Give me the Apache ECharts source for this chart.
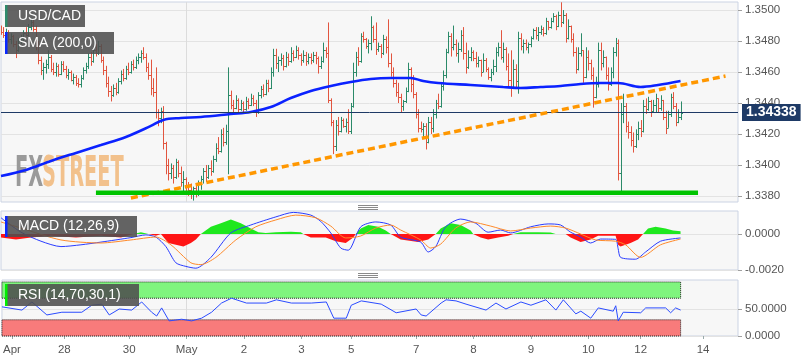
<!DOCTYPE html>
<html><head><meta charset="utf-8">
<script src="https://cdn.jsdelivr.net/npm/echarts@6/dist/echarts.min.js"></script>
<style>html,body{margin:0;padding:0;background:#fff}#c{width:808px;height:363px}</style>
</head><body><div id="c"></div>
<script>
// ---------- DATA ----------
const opens=[1.3488,1.3486,1.3484,1.3486,1.3481,1.3483,1.3478,1.3474,1.348,1.3482,
1.3485,1.3484,1.3489,1.3492,1.3488,1.3477,1.3468,1.3461,1.3463,1.3465,
1.347,1.3462,1.346,1.3464,1.3459,1.3465,1.3462,1.3458,1.346,1.3455,
1.3457,1.3453,1.3452,1.3456,1.3461,1.3464,1.347,1.3467,1.3474,1.3472,
1.3477,1.3468,1.3461,1.3453,1.3448,1.3445,1.345,1.3447,1.3454,1.3459,
1.3456,1.3462,1.346,1.3465,1.3463,1.3468,1.347,1.3472,1.347,1.3463,
1.3458,1.345,1.3447,1.3434,1.343,1.3435,1.3414,1.34,1.3395,1.3398,
1.3392,1.3402,1.3395,1.3389,1.3391,1.3386,1.3384,1.3381,1.3385,1.3382,
1.3388,1.3391,1.3396,1.3392,1.3398,1.3396,1.3404,1.3411,1.3409,1.342,
1.3415,1.3422,1.3445,1.3439,1.3437,1.3442,1.3436,1.344,1.3436,1.3441,
1.3439,1.3443,1.344,1.3434,1.3445,1.3449,1.3446,1.3453,1.345,1.346,
1.3471,1.3466,1.3468,1.3469,1.3464,1.347,1.3467,1.3472,1.347,1.3474,
1.3471,1.3468,1.3471,1.3467,1.347,1.3468,1.3471,1.3469,1.3464,1.3467,
1.3474,1.3472,1.3442,1.3428,1.3412,1.3426,1.3422,1.3429,1.3425,1.3428,
1.3422,1.3438,1.346,1.347,1.3467,1.3483,1.3481,1.3477,1.3479,1.3489,
1.3481,1.3475,1.3477,1.3472,1.3481,1.3476,1.3466,1.346,1.3453,1.3447,
1.3444,1.3438,1.3441,1.3448,1.3462,1.3452,1.3446,1.3433,1.3424,1.3423,
1.3425,1.3415,1.3428,1.3424,1.3433,1.344,1.3438,1.3451,1.3458,1.3473,
1.3483,1.3476,1.3478,1.3472,1.3475,1.3484,1.3472,1.3463,1.347,1.3473,
1.3469,1.3466,1.3468,1.346,1.3468,1.3462,1.3457,1.346,1.3464,1.3473,
1.3476,1.347,1.3475,1.3464,1.3455,1.345,1.3462,1.3454,1.3482,1.3477,
1.3479,1.3476,1.3478,1.3482,1.3487,1.3484,1.3486,1.3488,1.3485,1.3493,
1.3489,1.3493,1.3496,1.349,1.3497,1.3492,1.3497,1.3482,1.349,1.3481,
1.3473,1.3462,1.3472,1.3474,1.3457,1.347,1.3466,1.3458,1.3444,1.3452,
1.3474,1.3466,1.347,1.3458,1.3452,1.346,1.3473,1.3479,1.3395,1.3433,
1.3438,1.3425,1.3421,1.3416,1.3412,1.342,1.3424,1.3422,1.3438,1.3436,
1.3441,1.3435,1.3439,1.3443,1.3437,1.3442,1.3431,1.3424,1.3433,1.3444,
1.3438,1.3428,1.3431];
const highs=[1.349,1.3489,1.3488,1.3487,1.3485,1.3484,1.348,1.3482,1.3484,1.3487,
1.3489,1.3491,1.3495,1.3494,1.349,1.348,1.347,1.3466,1.3468,1.3474,
1.3471,1.3466,1.3466,1.3465,1.3467,1.3467,1.3464,1.3462,1.3461,1.3459,
1.3458,1.3456,1.3458,1.3463,1.3466,1.3472,1.3473,1.3476,1.3478,1.348,
1.3478,1.347,1.3464,1.3457,1.3451,1.3452,1.3453,1.3456,1.3461,1.3462,
1.3464,1.3466,1.3467,1.3468,1.347,1.3472,1.3474,1.3476,1.3472,1.3466,
1.3468,1.3456,1.3463,1.3436,1.3437,1.3438,1.3415,1.3404,1.3401,1.34,
1.3404,1.3403,1.3399,1.3396,1.3392,1.3389,1.3388,1.3386,1.3387,1.339,
1.3393,1.3398,1.34,1.34,1.3403,1.3406,1.3414,1.3418,1.3423,1.3424,
1.3426,1.3463,1.3448,1.3442,1.3445,1.3443,1.3442,1.3441,1.3444,1.3443,
1.3446,1.3445,1.3442,1.3447,1.3451,1.3452,1.3455,1.3455,1.3463,1.3475,
1.3475,1.347,1.3472,1.3471,1.3473,1.3472,1.3476,1.3474,1.3477,1.3476,
1.3472,1.3474,1.3473,1.3472,1.3472,1.3473,1.3473,1.347,1.347,1.3479,
1.3476,1.3492,1.3443,1.3429,1.3429,1.3431,1.3431,1.343,1.343,1.3436,
1.344,1.3466,1.3473,1.3476,1.3485,1.3486,1.3482,1.3481,1.3496,1.349,
1.3492,1.3479,1.3478,1.3484,1.3483,1.3494,1.3472,1.3463,1.3455,1.3453,
1.3446,1.3442,1.345,1.3466,1.3463,1.3458,1.3447,1.3436,1.3428,1.3427,
1.3427,1.3431,1.3431,1.3436,1.3442,1.3446,1.3453,1.3461,1.3475,1.3486,
1.3485,1.349,1.3481,1.3479,1.3487,1.3489,1.3479,1.3474,1.3476,1.3474,
1.3473,1.347,1.3468,1.3472,1.3469,1.3463,1.3462,1.3468,1.3476,1.3479,
1.3487,1.3479,1.3476,1.3472,1.3474,1.3468,1.3465,1.3486,1.3485,1.3481,
1.3481,1.3479,1.3483,1.3488,1.3489,1.3489,1.349,1.3489,1.3495,1.3493,
1.3495,1.3498,1.3497,1.3499,1.3505,1.35,1.3498,1.3494,1.349,1.3485,
1.3476,1.3476,1.3485,1.3474,1.3476,1.3474,1.3468,1.3463,1.3457,1.3479,
1.3479,1.3474,1.347,1.3463,1.3463,1.3476,1.3482,1.3481,1.344,1.3446,
1.344,1.3428,1.3425,1.3421,1.3423,1.3428,1.3429,1.3442,1.3443,1.3444,
1.3442,1.3442,1.3446,1.3443,1.3445,1.3442,1.3435,1.3435,1.3446,1.3447,
1.344,1.3436,1.3441];
const lows=[1.3484,1.3482,1.3481,1.3479,1.3478,1.3476,1.3469,1.3473,1.3478,1.348,
1.3483,1.3483,1.3487,1.3486,1.3474,1.3465,1.3458,1.3455,1.3459,1.3462,
1.346,1.3458,1.3457,1.3457,1.3458,1.346,1.3456,1.3455,1.3454,1.3452,
1.3451,1.345,1.345,1.3455,1.3459,1.3462,1.3464,1.3466,1.347,1.3471,
1.3466,1.3458,1.345,1.3444,1.3441,1.3444,1.3445,1.3446,1.3452,1.3454,
1.3455,1.3458,1.3459,1.3461,1.3462,1.3465,1.3466,1.3468,1.346,1.3455,
1.3445,1.3444,1.343,1.3425,1.3427,1.341,1.3394,1.339,1.3391,1.3388,
1.3391,1.3392,1.3386,1.3383,1.3382,1.338,1.3378,1.3377,1.3379,1.338,
1.3384,1.3388,1.3389,1.3391,1.3393,1.3395,1.3402,1.3407,1.3408,1.3412,
1.3413,1.3394,1.3436,1.3434,1.3436,1.3434,1.3435,1.3434,1.3435,1.3436,
1.3438,1.3438,1.3431,1.3433,1.3443,1.3444,1.3445,1.3447,1.3449,1.3457,
1.3462,1.346,1.3464,1.3461,1.3463,1.3464,1.3466,1.3467,1.3469,1.3468,
1.3464,1.3466,1.3464,1.3465,1.3465,1.3466,1.3465,1.3459,1.3462,1.3466,
1.3469,1.344,1.3425,1.3407,1.3409,1.3419,1.3421,1.3424,1.3421,1.342,
1.342,1.3437,1.3457,1.3464,1.3466,1.3479,1.3475,1.3472,1.3474,1.3479,
1.3471,1.3473,1.3469,1.3471,1.3472,1.3463,1.3457,1.345,1.3444,1.344,
1.3434,1.3435,1.344,1.3447,1.3447,1.3443,1.343,1.3421,1.3421,1.3418,
1.341,1.3414,1.342,1.3421,1.343,1.3436,1.3437,1.3448,1.3456,1.3472,
1.347,1.3474,1.347,1.3466,1.3473,1.3468,1.3459,1.3462,1.3467,1.3467,
1.3463,1.3463,1.3457,1.346,1.346,1.3455,1.3454,1.3458,1.346,1.347,
1.3468,1.3466,1.3461,1.345,1.3444,1.3449,1.345,1.3446,1.3474,1.3472,
1.3474,1.3472,1.3476,1.3481,1.3481,1.348,1.3484,1.3483,1.3484,1.3487,
1.3488,1.3492,1.3487,1.3489,1.3489,1.3491,1.3479,1.3481,1.3479,1.347,
1.3459,1.3461,1.347,1.3453,1.3456,1.3461,1.3455,1.3437,1.3443,1.345,
1.3461,1.3463,1.3455,1.3448,1.3451,1.3456,1.347,1.339,1.3383,1.3427,
1.3421,1.3417,1.3412,1.3408,1.3411,1.3416,1.3418,1.3421,1.3433,1.3435,
1.3431,1.3434,1.3434,1.3434,1.3435,1.3429,1.342,1.3424,1.3431,1.3436,
1.3425,1.3427,1.3429];
const closes=[1.3486,1.3484,1.3486,1.3481,1.3483,1.3478,1.3474,1.348,1.3482,1.3485,
1.3484,1.3489,1.3492,1.3488,1.3477,1.3468,1.3461,1.3463,1.3465,1.347,
1.3462,1.346,1.3464,1.3459,1.3465,1.3462,1.3458,1.346,1.3455,1.3457,
1.3453,1.3452,1.3456,1.3461,1.3464,1.347,1.3467,1.3474,1.3472,1.3477,
1.3468,1.3461,1.3453,1.3448,1.3445,1.345,1.3447,1.3454,1.3459,1.3456,
1.3462,1.346,1.3465,1.3463,1.3468,1.347,1.3472,1.347,1.3463,1.3458,
1.345,1.3447,1.3434,1.343,1.3435,1.3414,1.34,1.3395,1.3398,1.3392,
1.3402,1.3395,1.3389,1.3391,1.3386,1.3384,1.3381,1.3385,1.3382,1.3388,
1.3391,1.3396,1.3392,1.3398,1.3396,1.3404,1.3411,1.3409,1.342,1.3415,
1.3422,1.3445,1.3439,1.3437,1.3442,1.3436,1.344,1.3436,1.3441,1.3439,
1.3443,1.344,1.3434,1.3445,1.3449,1.3446,1.3453,1.345,1.346,1.3471,
1.3466,1.3468,1.3469,1.3464,1.347,1.3467,1.3472,1.347,1.3474,1.3471,
1.3468,1.3471,1.3467,1.347,1.3468,1.3471,1.3469,1.3464,1.3467,1.3474,
1.3472,1.3442,1.3428,1.3412,1.3426,1.3422,1.3429,1.3425,1.3428,1.3422,
1.3438,1.346,1.347,1.3467,1.3483,1.3481,1.3477,1.3479,1.3489,1.3481,
1.3475,1.3477,1.3472,1.3481,1.3476,1.3466,1.346,1.3453,1.3447,1.3444,
1.3438,1.3441,1.3448,1.3462,1.3452,1.3446,1.3433,1.3424,1.3423,1.3425,
1.3415,1.3428,1.3424,1.3433,1.344,1.3438,1.3451,1.3458,1.3473,1.3483,
1.3476,1.3478,1.3472,1.3475,1.3484,1.3472,1.3463,1.347,1.3473,1.3469,
1.3466,1.3468,1.346,1.3468,1.3462,1.3457,1.346,1.3464,1.3473,1.3476,
1.347,1.3475,1.3464,1.3455,1.345,1.3462,1.3454,1.3482,1.3477,1.3479,
1.3476,1.3478,1.3482,1.3487,1.3484,1.3486,1.3488,1.3485,1.3493,1.3489,
1.3493,1.3496,1.349,1.3497,1.3492,1.3497,1.3482,1.349,1.3481,1.3473,
1.3462,1.3472,1.3474,1.3457,1.347,1.3466,1.3458,1.3444,1.3452,1.3474,
1.3466,1.347,1.3458,1.3452,1.346,1.3473,1.3479,1.3395,1.3433,1.3438,
1.3425,1.3421,1.3416,1.3412,1.342,1.3424,1.3422,1.3438,1.3436,1.3441,
1.3435,1.3439,1.3443,1.3437,1.3442,1.3431,1.3424,1.3433,1.3444,1.3438,
1.3428,1.3431,1.34338];
const lastPrice = 1.34338;
// SMA(200) read at sampled bar indices [barIndex, value]
const smaPoints=[[0,1.33929],[10,1.33968],[20,1.34026],[30,1.34078],[40,1.34129],[50,1.34181],[60,1.34252],[65,1.34291],[72,1.34303],[80,1.3431],[92,1.34329],[100,1.34342],[108,1.34374],[116,1.34432],[124,1.34478],[132,1.3451],[140,1.34536],[148,1.34555],[156,1.34561],[164,1.34561],[169,1.34542],[175,1.34529],[188,1.34516],[201,1.34503],[208,1.34497],[216,1.34503],[224,1.3451],[232,1.34523],[240,1.34529],[247,1.34529],[256,1.34503],[263,1.34516],[272,1.34542]];
const trendIdx=[52,290], trendVal=[1.33787,1.34574];
const supportIdx=[38,279], supportVal=1.3382;
const macdHist=[[0,-0.0002],[6,-0.0003],[12,-0.0002],[20,-0.0001],[30,-0.0002],[40,-0.0001],[48,-0.0002],[53,0],[56,0.0001],[59,0],[62,-0.0001],[64,0],[67,-0.0005],[70,-0.0006],[73,-0.0007],[76,-0.0005],[78,-0.0003],[80,0],[84,0.0004],[88,0.0006],[92,0.0008],[96,0.0006],[100,0.0003],[103,0.0001],[106,0.00005],[110,0.0001],[116,0.00012],[120,0.0001],[121,0],[124,-0.0002],[130,-0.0002],[134,-0.0004],[138,-0.0005],[141,-0.0002],[142,0],[144,0.0003],[147,0.0005],[151,0.0004],[154,0.0002],[156,0],[160,-0.0003],[167,-0.00045],[171,-0.0003],[174,0],[176,0.0003],[180,0.0006],[184,0.0005],[188,0.0002],[189,0],[192,-0.0002],[195,-0.0003],[199,-0.0002],[203,-0.0001],[205,0],[208,0.0001],[215,0.0001],[220,0.00008],[222,0],[226,0],[228,-0.0002],[232,-0.00045],[236,-0.0003],[239,-0.0001],[246,-0.0001],[247,-0.0006],[248,-0.0007],[252,-0.0005],[255,-0.0003],[257,0],[259,0.0003],[262,0.0004],[266,0.0003],[269,0.0002],[272,0.00015]];
const macdLine=[[0,0.0009],[8,0.0001],[16,-0.0004],[24,-0.0007],[32,-0.0006],[40,-0.00045],[52,-0.0002],[58,-0.00005],[62,-0.00017],[66,-0.0007],[70,-0.0016],[74,-0.0018],[78,-0.0019],[84,-0.0013],[92,0.00006],[100,0.0005],[110,0.00095],[117,0.0012],[124,0.00105],[128,0.0007],[132,0.00006],[136,-0.00078],[139,-0.0009],[144,0.0004],[150,0.00067],[156,0.0005],[160,-0.00017],[168,-0.00045],[171,-0.001],[174,-0.0007],[178,0.0004],[184,0.00083],[190,0.0006],[195,0.0001],[200,0.00022],[204,0.00006],[212,0.0004],[219,0.00056],[224,0.0005],[228,0.0001],[232,-0.00017],[236,-0.0005],[240,-0.00028],[246,-0.0003],[247,-0.0008],[248,-0.0013],[254,-0.0014],[258,-0.001],[264,-0.0004],[272,-0.00022]];
const signalLine=[[0,0.00067],[8,0.00033],[24,-0.00033],[40,-0.0005],[52,-0.00033],[62,-0.00017],[68,-0.0006],[76,-0.0016],[80,-0.0017],[86,-0.0013],[94,-0.00033],[102,0.0004],[110,0.00078],[118,0.00105],[126,0.0009],[132,0.00044],[138,-0.00022],[144,-0.00011],[150,0.00033],[156,0.0005],[160,0.00022],[168,-0.00033],[172,-0.00078],[176,-0.00056],[182,0.00033],[188,0.00067],[196,0.00044],[204,0.00017],[212,0.00033],[220,0.00044],[226,0.00033],[232,0],[238,-0.00033],[246,-0.0004],[250,-0.0006],[256,-0.0013],[264,-0.0006],[272,-0.00028]];
const rsiLine=[[0,54],[8,48],[12,63],[18,39],[24,44],[32,44],[36,57],[40,59],[43,39],[47,50],[52,48],[56,63],[60,44],[62,37],[64,52],[67,28],[72,31],[76,28],[80,33],[84,44],[88,61],[92,70],[98,61],[106,61],[110,67],[116,61],[124,61],[130,63],[133,33],[138,33],[140,57],[144,65],[152,59],[158,43],[166,50],[168,39],[170,37],[176,61],[178,67],[182,65],[186,59],[194,48],[198,61],[202,50],[208,63],[212,57],[218,67],[222,48],[225,67],[230,41],[232,46],[236,33],[239,52],[245,46],[246,56],[247,28],[249,44],[256,43],[258,52],[266,52],[268,43],[270,52],[272,48]];
const rsiUpper=70, rsiLower=30;
const priceTicks=[1.338,1.34,1.342,1.344,1.346,1.348,1.35];
const macdTicks=[-0.002,0];
const rsiTicks=[0,50];
const xTickIdx=[4,25,51,74,97,120,140,166,189,212,235,256,281];
const xTickText=['Apr','28','30','May','2','3','5','7','8','9','10','12','14'];
const N_CATS=296;
const categories=Array.from({length:N_CATS},(_,i)=>String(i));

// ---------- CHART ----------
const UP='#2b8a69', DOWN='#e2553f';
const FONT='"Liberation Sans", Arial, sans-serif';
const chart=echarts.init(document.getElementById('c'),null,{renderer:'canvas'});
const ohlcData=opens.map((o,i)=>[i,o,highs[i],lows[i],closes[i]]);
const lastBar=String(opens.length-1);
const histUp=macdHist.map(d=>[d[0],Math.max(d[1],0)]);
const histDown=macdHist.map(d=>[d[0],Math.min(d[1],0)]);

function xAx(gi,show){
  return {type:'category',gridIndex:gi,data:categories,boundaryGap:false,
    axisLine:{show:false},
    axisTick:{show:show,interval:(i)=>xTickIdx.includes(i),length:3,lineStyle:{color:'#9aa'}},
    axisLabel:{show:show,interval:(i)=>xTickIdx.includes(i),
      formatter:(v)=>{const k=xTickIdx.indexOf(Number(v));return k>=0?xTickText[k]:'';},
      color:'#555',fontSize:11.5,fontFamily:FONT,margin:8},
    splitLine:{show:true,interval:(i)=>i===74,lineStyle:{color:'#dcdcdc',width:1}}};
}
function yAx(gi,min,max,ticks,fmt){
  return {type:'value',gridIndex:gi,position:'right',min:min,max:max,scale:true,
    axisLine:{show:false},
    axisTick:{show:true,customValues:ticks,length:4,lineStyle:{color:'#a0a0a0'}},
    axisLabel:{customValues:ticks,formatter:fmt,color:'#555',fontSize:11.5,fontFamily:FONT,margin:7},
    splitLine:{show:true,lineStyle:{color:'#e3e3e3'}}};
}
function tag(x,y,w,h,stripe,text){
  return {type:'group',children:[
    {type:'rect',z:100,shape:{x:x,y:y,width:w,height:h},style:{fill:'rgba(78,78,78,0.88)'}},
    {type:'rect',z:101,shape:{x:x,y:y,width:2.5,height:h},style:{fill:stripe}},
    {type:'text',z:102,x:x+13,y:y+h/2,style:{text:text,fill:'#fff',font:'14px '+FONT,verticalAlign:'middle'}}
  ]};
}
function handle(y){
  return [0,2,4].map(d=>({type:'line',z:100,shape:{x1:358,y1:y+d+0.5,x2:378,y2:y+d+0.5},style:{stroke:'#8a8a8a',lineWidth:1}}));
}
const gridStyle={show:true,backgroundColor:'#f7f7f7',borderColor:'#cbd3e3',borderWidth:1,left:1,right:70};

const option={
  animation:false,
  backgroundColor:'#fff',
  textStyle:{fontFamily:FONT},
  grid:[
    Object.assign({top:2,height:200},gridStyle),
    Object.assign({top:211,height:59},gridStyle),
    Object.assign({top:280,height:56},gridStyle)
  ],
  xAxis:[xAx(0,false),xAx(1,false),xAx(2,true)],
  yAxis:[
    yAx(0,1.33761,1.35052,priceTicks,v=>v.toFixed(4)),
    yAx(1,-0.002,0.001278,macdTicks,v=>v.toFixed(4)),
    yAx(2,0,103.7,rsiTicks,v=>v.toFixed(4))
  ],
  series:[
    {type:'custom',xAxisIndex:0,yAxisIndex:0,data:ohlcData,encode:{x:0,y:[1,2,3,4]},clip:true,z:3,
      renderItem:function(params,api){
        const i=api.value(0),o=api.value(1),h=api.value(2),l=api.value(3),c=api.value(4);
        const p=api.coord([i,o]);
        const x=Math.round(p[0])+0.5;
        const yo=Math.round(p[1])+0.5, yc=Math.round(api.coord([i,c])[1])+0.5;
        const yh=api.coord([i,h])[1], yl=api.coord([i,l])[1];
        const st={stroke:c>=o?UP:DOWN,lineWidth:1};
        return {type:'group',children:[
          {type:'line',shape:{x1:x,y1:yh,x2:x,y2:yl},style:st},
          {type:'line',shape:{x1:x-1.5,y1:yo,x2:x,y2:yo},style:st},
          {type:'line',shape:{x1:x,y1:yc,x2:x+1.5,y2:yc},style:st}
        ]};
      }},
    {type:'line',name:'SMA',xAxisIndex:0,yAxisIndex:0,data:smaPoints,smooth:0.35,showSymbol:false,z:4,
      lineStyle:{color:'#0b22ff',width:2.6},
      markLine:{silent:true,symbol:'none',precision:5,
        lineStyle:{color:'#1e3a66',width:1,type:'solid'},
        label:{show:true,position:'end',formatter:lastPrice.toFixed(5),backgroundColor:'#1e3a66',color:'#fff',
          fontWeight:'bold',fontSize:14,fontFamily:FONT,padding:[2,4,1,4],distance:4},
        data:[{yAxis:lastPrice}]}},
    {type:'line',xAxisIndex:0,yAxisIndex:0,data:trendIdx.map((x,k)=>[x,trendVal[k]]),showSymbol:false,z:5,
      lineStyle:{color:'#ff9700',width:3.5,type:[7,4]}},
    {type:'line',xAxisIndex:0,yAxisIndex:0,data:supportIdx.map(x=>[x,supportVal]),showSymbol:false,z:5,
      lineStyle:{color:'#00c400',width:4.5}},
    {type:'line',xAxisIndex:1,yAxisIndex:1,data:histUp,showSymbol:false,z:2,
      lineStyle:{width:0,color:'#1fe81f'},itemStyle:{color:'#1fe81f'},areaStyle:{color:'#1fe81f',opacity:1,origin:0}},
    {type:'line',xAxisIndex:1,yAxisIndex:1,data:histDown,showSymbol:false,z:2,
      lineStyle:{width:0,color:'#ff1515'},itemStyle:{color:'#ff1515'},areaStyle:{color:'#ff1515',opacity:1,origin:0}},
    {type:'line',xAxisIndex:1,yAxisIndex:1,data:macdLine,smooth:0.25,showSymbol:false,z:4,
      lineStyle:{color:'#2a3cff',width:1}},
    {type:'line',xAxisIndex:1,yAxisIndex:1,data:signalLine,smooth:0.25,showSymbol:false,z:4,
      lineStyle:{color:'#ff8a2a',width:1}},
    {type:'line',xAxisIndex:2,yAxisIndex:2,data:rsiLine,showSymbol:false,z:4,
      lineStyle:{color:'#2a4bff',width:1},
      markArea:{silent:true,data:[
        [{xAxis:'0',yAxis:rsiUpper,itemStyle:{color:'#7ff57e',borderColor:'#222',borderWidth:1,borderType:'dotted'}},{xAxis:lastBar,yAxis:100}],
        [{xAxis:'0',yAxis:0,itemStyle:{color:'#f87b7b',borderColor:'#222',borderWidth:1,borderType:'dotted'}},{xAxis:lastBar,yAxis:rsiLower}]
      ]}}
  ],
  graphic:[
    {type:'text',z:1,x:15,y:153,scaleX:0.5,style:{text:'FX',fill:'#9a9a9a',font:'bold 43px "DejaVu Sans Condensed", "DejaVu Sans"',verticalAlign:'top'}},
    {type:'text',z:1,x:42,y:153,scaleX:0.5,style:{text:'STREET',fill:'#f2c18c',font:'bold 43px "DejaVu Sans Condensed", "DejaVu Sans"',verticalAlign:'top'}},
    tag(5,5,80,22,'#2e8b6b','USD/CAD'),
    tag(5,32,109,22,'#0a28ff','SMA (200,0)'),
    tag(5,216,132,21,'#0a28ff','MACD (12,26,9)'),
    tag(5,284,134,22,'#00ee00','RSI (14,70,30,1)')
  ].concat(handle(205)).concat(handle(273))
};
chart.setOption(option);
</script>
</body></html>
